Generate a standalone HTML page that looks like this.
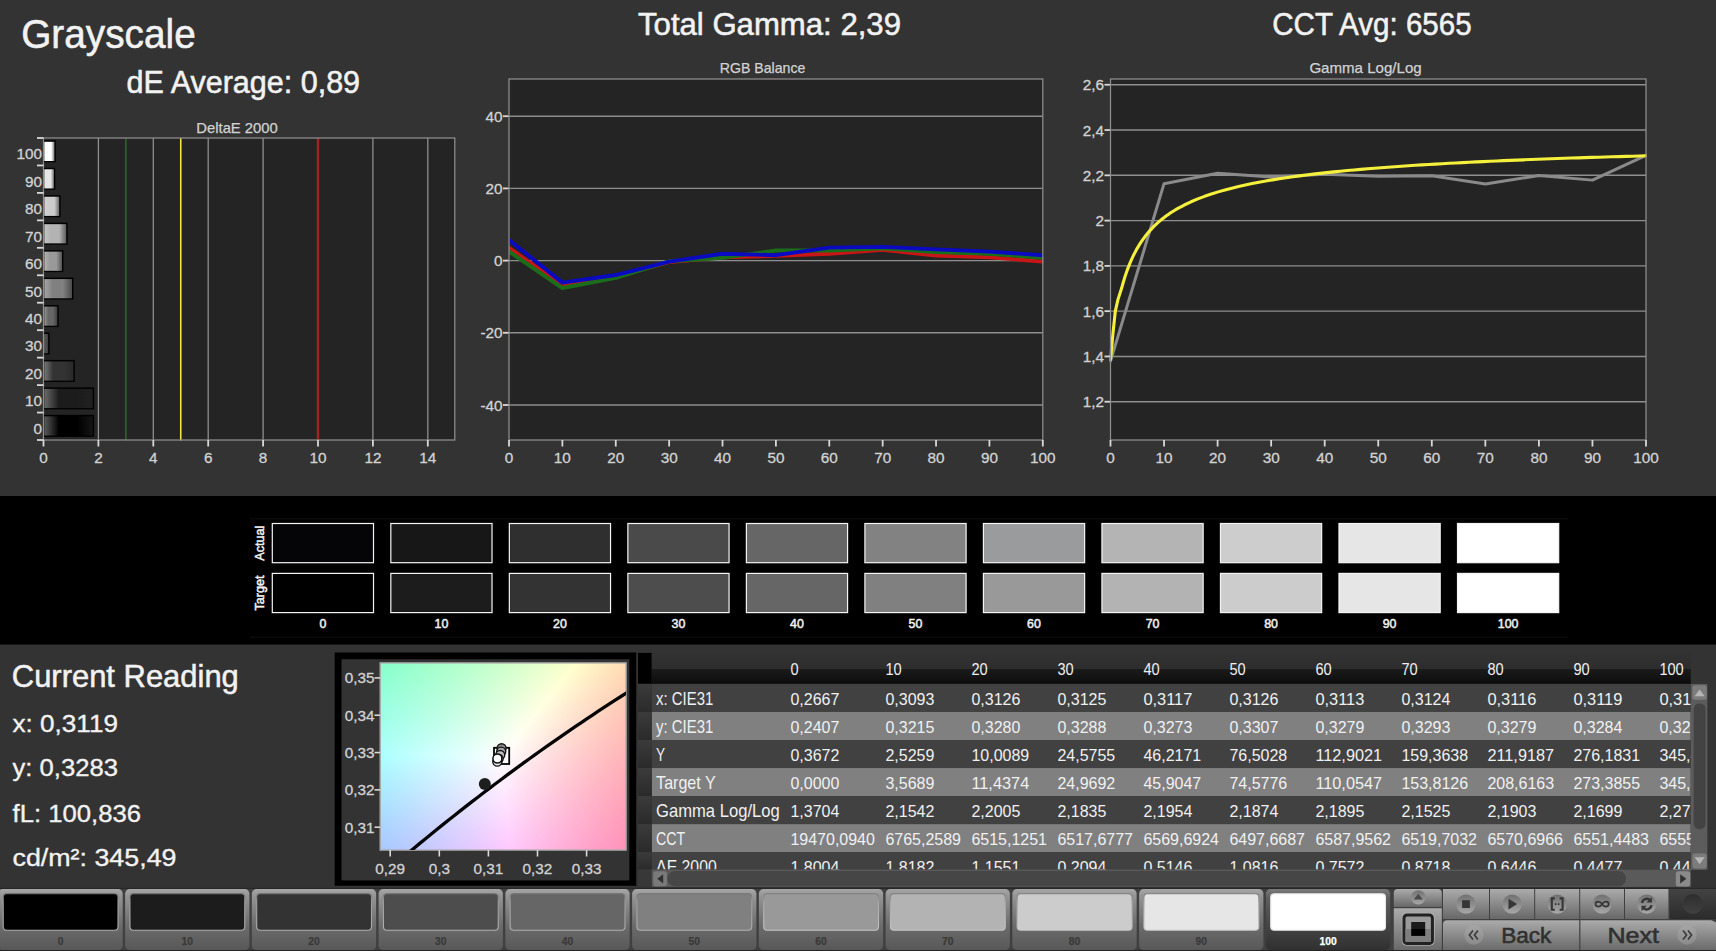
<!DOCTYPE html>
<html lang="en">
<head>
<meta charset="utf-8">
<title>Grayscale</title>
<style>
html,body{margin:0;padding:0;background:#333;}
body{width:1716px;height:951px;overflow:hidden;position:relative;font-family:"Liberation Sans",sans-serif;}
#cie{position:absolute;left:380px;top:663px;width:246px;height:187px;background-color:#fff;
 background-image:linear-gradient(128.55deg,#86ffff 0.0%,#9bffff 9.9%,#b1ffff 19.9%,#c9ffff 29.8%,#e3ffff 39.7%,#ffffff 49.6%,#ffffff 100.0%),
  linear-gradient(86.40deg,#a7ffff 0.0%,#b8ffff 9.9%,#c9ffff 19.8%,#daffff 29.7%,#ecffff 39.6%,#ffffff 49.5%,#ffffff 100.0%),
  linear-gradient(308.55deg,#ff92ff 0.0%,#ffa3ff 10.1%,#ffb6ff 20.1%,#ffcbff 30.2%,#ffe3ff 40.3%,#ffffff 50.4%,#ffffff 100.0%),
  linear-gradient(359.86deg,#ffc8ff 0.0%,#ffd2ff 10.0%,#ffddff 20.0%,#ffe8ff 30.1%,#fff3ff 40.1%,#ffffff 50.1%,#ffffff 100.0%),
  linear-gradient(266.40deg,#ffffb4 0.0%,#ffffc0 10.1%,#ffffcd 20.2%,#ffffdc 30.3%,#ffffed 40.4%,#ffffff 50.5%,#ffffff 100.0%),
  linear-gradient(179.86deg,#ffffca 0.0%,#ffffd4 10.0%,#ffffde 20.0%,#ffffe8 29.9%,#fffff3 39.9%,#ffffff 49.9%,#ffffff 100.0%);background-blend-mode:darken;}
svg{position:absolute;left:0;top:0;}
svg text{font-family:"Liberation Sans",sans-serif;white-space:pre;}
</style>
</head>
<body>
<div id="cie"></div>
<svg width="1716" height="951" viewBox="0 0 1716 951">
<defs>
<linearGradient id="bg100" x1="0" x2="1" y1="0" y2="0"><stop offset="0" stop-color="#ffffff"/><stop offset="0.3" stop-color="#ffffff"/><stop offset="0.68" stop-color="#ffffff"/><stop offset="1" stop-color="#7f7f7f"/></linearGradient>
<linearGradient id="bg90" x1="0" x2="1" y1="0" y2="0"><stop offset="0" stop-color="#e6e6e6"/><stop offset="0.3" stop-color="#e6e6e6"/><stop offset="0.68" stop-color="#e6e6e6"/><stop offset="1" stop-color="#757575"/></linearGradient>
<linearGradient id="bg80" x1="0" x2="1" y1="0" y2="0"><stop offset="0" stop-color="#d1d1d1"/><stop offset="0.3" stop-color="#cccccc"/><stop offset="0.68" stop-color="#cccccc"/><stop offset="1" stop-color="#6a6a6a"/></linearGradient>
<linearGradient id="bg70" x1="0" x2="1" y1="0" y2="0"><stop offset="0" stop-color="#c3c3c3"/><stop offset="0.3" stop-color="#b3b3b3"/><stop offset="0.68" stop-color="#b3b3b3"/><stop offset="1" stop-color="#5f5f5f"/></linearGradient>
<linearGradient id="bg60" x1="0" x2="1" y1="0" y2="0"><stop offset="0" stop-color="#b3b3b3"/><stop offset="0.3" stop-color="#999999"/><stop offset="0.68" stop-color="#999999"/><stop offset="1" stop-color="#545454"/></linearGradient>
<linearGradient id="bg50" x1="0" x2="1" y1="0" y2="0"><stop offset="0" stop-color="#a5a5a5"/><stop offset="0.3" stop-color="#808080"/><stop offset="0.68" stop-color="#808080"/><stop offset="1" stop-color="#4a4a4a"/></linearGradient>
<linearGradient id="bg40" x1="0" x2="1" y1="0" y2="0"><stop offset="0" stop-color="#969696"/><stop offset="0.3" stop-color="#666666"/><stop offset="0.68" stop-color="#666666"/><stop offset="1" stop-color="#3f3f3f"/></linearGradient>
<linearGradient id="bg30" x1="0" x2="1" y1="0" y2="0"><stop offset="0" stop-color="#878787"/><stop offset="0.3" stop-color="#4d4d4d"/><stop offset="0.68" stop-color="#4d4d4d"/><stop offset="1" stop-color="#343434"/></linearGradient>
<linearGradient id="bg20" x1="0" x2="1" y1="0" y2="0"><stop offset="0" stop-color="#787878"/><stop offset="0.3" stop-color="#333333"/><stop offset="0.68" stop-color="#333333"/><stop offset="1" stop-color="#292929"/></linearGradient>
<linearGradient id="bg10" x1="0" x2="1" y1="0" y2="0"><stop offset="0" stop-color="#6b6b6b"/><stop offset="0.3" stop-color="#1c1c1c"/><stop offset="0.68" stop-color="#1c1c1c"/><stop offset="1" stop-color="#202020"/></linearGradient>
<linearGradient id="bg0" x1="0" x2="1" y1="0" y2="0"><stop offset="0" stop-color="#5b5b5b"/><stop offset="0.3" stop-color="#000000"/><stop offset="0.68" stop-color="#000000"/><stop offset="1" stop-color="#141414"/></linearGradient>
<clipPath id="cpRGB"><rect x="509" y="79" width="534.8" height="361"/></clipPath>
<clipPath id="cpG"><rect x="1109.5" y="79" width="537.1" height="361"/></clipPath>
<linearGradient id="thd" x1="0" x2="0" y1="0" y2="1"><stop offset="0" stop-color="#323232"/><stop offset="0.52" stop-color="#2d2d2d"/><stop offset="0.52" stop-color="#1b1b1b"/><stop offset="1" stop-color="#0c0c0c"/></linearGradient>
<linearGradient id="gut" x1="0" x2="0" y1="0" y2="1"><stop offset="0" stop-color="#3b3b3b"/><stop offset="1" stop-color="#2a2a2a"/></linearGradient>
<clipPath id="cpT"><rect x="651.8" y="652.9" width="1039" height="216.6"/></clipPath>
<linearGradient id="btn" x1="0" x2="0" y1="0" y2="1"><stop offset="0" stop-color="#a6a6a6"/><stop offset="0.12" stop-color="#949494"/><stop offset="0.6" stop-color="#6c6c6c"/><stop offset="1" stop-color="#585858"/></linearGradient>
<linearGradient id="btnSel" x1="0" x2="0" y1="0" y2="1"><stop offset="0" stop-color="#7a7a7a"/><stop offset="0.15" stop-color="#5e5e5e"/><stop offset="0.7" stop-color="#404040"/><stop offset="1" stop-color="#303030"/></linearGradient>
<linearGradient id="sb" x1="0" x2="0" y1="0" y2="1"><stop offset="0" stop-color="#ababab"/><stop offset="1" stop-color="#686868"/></linearGradient>
<linearGradient id="ic" x1="0" x2="0" y1="0" y2="1"><stop offset="0" stop-color="#707070"/><stop offset="1" stop-color="#a8a8a8"/></linearGradient>
<linearGradient id="ic2" x1="0" x2="0" y1="0" y2="1"><stop offset="0" stop-color="#a6a6a6"/><stop offset="1" stop-color="#8a8a8a"/></linearGradient>
<linearGradient id="swb" x1="0" x2="0" y1="0" y2="1"><stop offset="0" stop-color="#707070"/><stop offset="0.2" stop-color="#9a9a9a"/><stop offset="1" stop-color="#b0b0b0"/></linearGradient>
<linearGradient id="swb2" x1="0" x2="0" y1="0" y2="1"><stop offset="0" stop-color="#7c7c7c"/><stop offset="0.25" stop-color="#a8a8a8"/><stop offset="1" stop-color="#c4c4c4"/></linearGradient>
<linearGradient id="dk" x1="0" x2="0" y1="0" y2="1"><stop offset="0" stop-color="#434343"/><stop offset="1" stop-color="#2b2b2b"/></linearGradient>
<linearGradient id="dk2" x1="0" x2="0" y1="0" y2="1"><stop offset="0" stop-color="#2d2d2d"/><stop offset="1" stop-color="#414141"/></linearGradient>
</defs>
<text x="21.2" y="47.8" font-size="41" fill="#f2f2f2" textLength="174.5" lengthAdjust="spacingAndGlyphs" stroke="#f2f2f2" stroke-width="0.55">Grayscale</text>
<text x="126.6" y="93.3" font-size="31" fill="#f2f2f2" textLength="233.5" lengthAdjust="spacingAndGlyphs" stroke="#f2f2f2" stroke-width="0.55">dE Average: 0,89</text>
<text x="638" y="34.6" font-size="31.6" fill="#f2f2f2" textLength="263" lengthAdjust="spacingAndGlyphs" stroke="#f2f2f2" stroke-width="0.55">Total Gamma: 2,39</text>
<text x="1272.2" y="34.6" font-size="31.6" fill="#f2f2f2" textLength="199.5" lengthAdjust="spacingAndGlyphs" stroke="#f2f2f2" stroke-width="0.55">CCT Avg: 6565</text>
<text x="196.3" y="132.9" font-size="14.8" fill="#d2d2d2" textLength="81.5" lengthAdjust="spacingAndGlyphs" stroke="#d2d2d2" stroke-width="0.25">DeltaE 2000</text>
<text x="719.8" y="72.7" font-size="14.8" fill="#d2d2d2" textLength="85.5" lengthAdjust="spacingAndGlyphs" stroke="#d2d2d2" stroke-width="0.25">RGB Balance</text>
<text x="1309.4" y="72.7" font-size="14.8" fill="#d2d2d2" textLength="112.3" lengthAdjust="spacingAndGlyphs" stroke="#d2d2d2" stroke-width="0.25">Gamma Log/Log</text>
<rect x="43.5" y="138" width="411.3" height="302" fill="#242424"/>
<line x1="98.4" y1="138" x2="98.4" y2="440" stroke="#8e8e8e" stroke-width="1.3"/>
<line x1="153.3" y1="138" x2="153.3" y2="440" stroke="#8e8e8e" stroke-width="1.3"/>
<line x1="208.2" y1="138" x2="208.2" y2="440" stroke="#8e8e8e" stroke-width="1.3"/>
<line x1="263.1" y1="138" x2="263.1" y2="440" stroke="#8e8e8e" stroke-width="1.3"/>
<line x1="318" y1="138" x2="318" y2="440" stroke="#8e8e8e" stroke-width="1.3"/>
<line x1="372.9" y1="138" x2="372.9" y2="440" stroke="#8e8e8e" stroke-width="1.3"/>
<line x1="427.8" y1="138" x2="427.8" y2="440" stroke="#8e8e8e" stroke-width="1.3"/>
<line x1="125.85" y1="138" x2="125.85" y2="440.5" stroke="#2b6c28" stroke-width="1.5"/>
<line x1="180.75" y1="138" x2="180.75" y2="440.5" stroke="#f2ea3a" stroke-width="1.6"/>
<line x1="318" y1="138" x2="318" y2="440.5" stroke="#a32222" stroke-width="2.4"/>
<rect x="43.5" y="138" width="411.3" height="302" fill="none" stroke="#8e8e8e" stroke-width="1.25"/>
<rect x="44.1" y="140.3" width="11.7" height="22" fill="#000"/>
<rect x="44.3" y="141.8" width="10.1" height="19.2" fill="url(#bg100)"/>
<line x1="37" y1="138" x2="43.5" y2="138" stroke="#d8d8d8" stroke-width="1.8"/>
<text x="42" y="159.23" font-size="15.3" fill="#d2d2d2" text-anchor="end" stroke="#d2d2d2" stroke-width="0.3">100</text>
<rect x="44.1" y="167.75" width="11.2" height="22" fill="#000"/>
<rect x="44.3" y="169.25" width="9.6" height="19.2" fill="url(#bg90)"/>
<line x1="37" y1="165.45" x2="43.5" y2="165.45" stroke="#d8d8d8" stroke-width="1.8"/>
<text x="42" y="186.68" font-size="15.3" fill="#d2d2d2" text-anchor="end" stroke="#d2d2d2" stroke-width="0.3">90</text>
<rect x="44.1" y="195.21" width="16.5" height="22" fill="#000"/>
<rect x="44.3" y="196.71" width="14.9" height="19.2" fill="url(#bg80)"/>
<line x1="37" y1="192.91" x2="43.5" y2="192.91" stroke="#d8d8d8" stroke-width="1.8"/>
<text x="42" y="214.14" font-size="15.3" fill="#d2d2d2" text-anchor="end" stroke="#d2d2d2" stroke-width="0.3">80</text>
<rect x="44.1" y="222.66" width="23.5" height="22" fill="#000"/>
<rect x="44.3" y="224.16" width="21.9" height="19.2" fill="url(#bg70)"/>
<line x1="37" y1="220.36" x2="43.5" y2="220.36" stroke="#d8d8d8" stroke-width="1.8"/>
<text x="42" y="241.59" font-size="15.3" fill="#d2d2d2" text-anchor="end" stroke="#d2d2d2" stroke-width="0.3">70</text>
<rect x="44.1" y="250.12" width="19.3" height="22" fill="#000"/>
<rect x="44.3" y="251.62" width="17.7" height="19.2" fill="url(#bg60)"/>
<line x1="37" y1="247.82" x2="43.5" y2="247.82" stroke="#d8d8d8" stroke-width="1.8"/>
<text x="42" y="269.05" font-size="15.3" fill="#d2d2d2" text-anchor="end" stroke="#d2d2d2" stroke-width="0.3">60</text>
<rect x="44.1" y="277.57" width="29.3" height="22" fill="#000"/>
<rect x="44.3" y="279.07" width="27.7" height="19.2" fill="url(#bg50)"/>
<line x1="37" y1="275.27" x2="43.5" y2="275.27" stroke="#d8d8d8" stroke-width="1.8"/>
<text x="42" y="296.5" font-size="15.3" fill="#d2d2d2" text-anchor="end" stroke="#d2d2d2" stroke-width="0.3">50</text>
<rect x="44.1" y="305.03" width="14.6" height="22" fill="#000"/>
<rect x="44.3" y="306.53" width="13" height="19.2" fill="url(#bg40)"/>
<line x1="37" y1="302.73" x2="43.5" y2="302.73" stroke="#d8d8d8" stroke-width="1.8"/>
<text x="42" y="323.95" font-size="15.3" fill="#d2d2d2" text-anchor="end" stroke="#d2d2d2" stroke-width="0.3">40</text>
<rect x="44.1" y="332.48" width="5.5" height="22" fill="#000"/>
<rect x="44.3" y="333.98" width="3.9" height="19.2" fill="url(#bg30)"/>
<line x1="37" y1="330.18" x2="43.5" y2="330.18" stroke="#d8d8d8" stroke-width="1.8"/>
<text x="42" y="351.41" font-size="15.3" fill="#d2d2d2" text-anchor="end" stroke="#d2d2d2" stroke-width="0.3">30</text>
<rect x="44.1" y="359.94" width="30.7" height="22" fill="#000"/>
<rect x="44.3" y="361.44" width="29.1" height="19.2" fill="url(#bg20)"/>
<line x1="37" y1="357.64" x2="43.5" y2="357.64" stroke="#d8d8d8" stroke-width="1.8"/>
<text x="42" y="378.86" font-size="15.3" fill="#d2d2d2" text-anchor="end" stroke="#d2d2d2" stroke-width="0.3">20</text>
<rect x="44.1" y="387.39" width="50" height="22" fill="#000"/>
<rect x="44.3" y="388.89" width="48.4" height="19.2" fill="url(#bg10)"/>
<line x1="37" y1="385.09" x2="43.5" y2="385.09" stroke="#d8d8d8" stroke-width="1.8"/>
<text x="42" y="406.32" font-size="15.3" fill="#d2d2d2" text-anchor="end" stroke="#d2d2d2" stroke-width="0.3">10</text>
<rect x="44.1" y="414.85" width="50" height="22" fill="#000"/>
<rect x="44.3" y="416.35" width="48.4" height="19.2" fill="url(#bg0)"/>
<line x1="37" y1="412.55" x2="43.5" y2="412.55" stroke="#d8d8d8" stroke-width="1.8"/>
<text x="42" y="433.77" font-size="15.3" fill="#d2d2d2" text-anchor="end" stroke="#d2d2d2" stroke-width="0.3">0</text>
<line x1="37" y1="440" x2="43.5" y2="440" stroke="#d8d8d8" stroke-width="1.8"/>
<line x1="43.5" y1="440" x2="43.5" y2="446.5" stroke="#d8d8d8" stroke-width="1.8"/>
<text x="43.5" y="463.3" font-size="15.3" fill="#d2d2d2" text-anchor="middle" stroke="#d2d2d2" stroke-width="0.3">0</text>
<line x1="98.4" y1="440" x2="98.4" y2="446.5" stroke="#d8d8d8" stroke-width="1.8"/>
<text x="98.4" y="463.3" font-size="15.3" fill="#d2d2d2" text-anchor="middle" stroke="#d2d2d2" stroke-width="0.3">2</text>
<line x1="153.3" y1="440" x2="153.3" y2="446.5" stroke="#d8d8d8" stroke-width="1.8"/>
<text x="153.3" y="463.3" font-size="15.3" fill="#d2d2d2" text-anchor="middle" stroke="#d2d2d2" stroke-width="0.3">4</text>
<line x1="208.2" y1="440" x2="208.2" y2="446.5" stroke="#d8d8d8" stroke-width="1.8"/>
<text x="208.2" y="463.3" font-size="15.3" fill="#d2d2d2" text-anchor="middle" stroke="#d2d2d2" stroke-width="0.3">6</text>
<line x1="263.1" y1="440" x2="263.1" y2="446.5" stroke="#d8d8d8" stroke-width="1.8"/>
<text x="263.1" y="463.3" font-size="15.3" fill="#d2d2d2" text-anchor="middle" stroke="#d2d2d2" stroke-width="0.3">8</text>
<line x1="318" y1="440" x2="318" y2="446.5" stroke="#d8d8d8" stroke-width="1.8"/>
<text x="318" y="463.3" font-size="15.3" fill="#d2d2d2" text-anchor="middle" stroke="#d2d2d2" stroke-width="0.3">10</text>
<line x1="372.9" y1="440" x2="372.9" y2="446.5" stroke="#d8d8d8" stroke-width="1.8"/>
<text x="372.9" y="463.3" font-size="15.3" fill="#d2d2d2" text-anchor="middle" stroke="#d2d2d2" stroke-width="0.3">12</text>
<line x1="427.8" y1="440" x2="427.8" y2="446.5" stroke="#d8d8d8" stroke-width="1.8"/>
<text x="427.8" y="463.3" font-size="15.3" fill="#d2d2d2" text-anchor="middle" stroke="#d2d2d2" stroke-width="0.3">14</text>
<rect x="509" y="79" width="533.8" height="361" fill="#242424"/>
<line x1="509" y1="116.2" x2="1042.8" y2="116.2" stroke="#8e8e8e" stroke-width="1.4"/>
<line x1="503" y1="116.2" x2="509" y2="116.2" stroke="#d8d8d8" stroke-width="1.8"/>
<text x="502.5" y="121.8" font-size="15.3" fill="#d2d2d2" text-anchor="end" stroke="#d2d2d2" stroke-width="0.3">40</text>
<line x1="509" y1="188.4" x2="1042.8" y2="188.4" stroke="#8e8e8e" stroke-width="1.4"/>
<line x1="503" y1="188.4" x2="509" y2="188.4" stroke="#d8d8d8" stroke-width="1.8"/>
<text x="502.5" y="194" font-size="15.3" fill="#d2d2d2" text-anchor="end" stroke="#d2d2d2" stroke-width="0.3">20</text>
<line x1="509" y1="260.6" x2="1042.8" y2="260.6" stroke="#8e8e8e" stroke-width="1.4"/>
<line x1="503" y1="260.6" x2="509" y2="260.6" stroke="#d8d8d8" stroke-width="1.8"/>
<text x="502.5" y="266.2" font-size="15.3" fill="#d2d2d2" text-anchor="end" stroke="#d2d2d2" stroke-width="0.3">0</text>
<line x1="509" y1="332.8" x2="1042.8" y2="332.8" stroke="#8e8e8e" stroke-width="1.4"/>
<line x1="503" y1="332.8" x2="509" y2="332.8" stroke="#d8d8d8" stroke-width="1.8"/>
<text x="502.5" y="338.4" font-size="15.3" fill="#d2d2d2" text-anchor="end" stroke="#d2d2d2" stroke-width="0.3">-20</text>
<line x1="509" y1="405" x2="1042.8" y2="405" stroke="#8e8e8e" stroke-width="1.4"/>
<line x1="503" y1="405" x2="509" y2="405" stroke="#d8d8d8" stroke-width="1.8"/>
<text x="502.5" y="410.6" font-size="15.3" fill="#d2d2d2" text-anchor="end" stroke="#d2d2d2" stroke-width="0.3">-40</text>
<polyline points="509,247.97 562.38,285.15 615.76,276.48 669.14,262.04 722.52,257.35 775.9,255.91 829.28,253.74 882.66,249.77 936.04,255.55 989.42,257.35 1042.8,261.68" fill="none" stroke="#c81616" stroke-width="3.9" stroke-linejoin="round" stroke-linecap="round" clip-path="url(#cpRGB)"/>
<polyline points="509,251.58 562.38,288.04 615.76,277.93 669.14,261.32 722.52,257.71 775.9,250.49 829.28,250.49 882.66,248.33 936.04,251.94 989.42,253.74 1042.8,257.71" fill="none" stroke="#1a6e1a" stroke-width="3.9" stroke-linejoin="round" stroke-linecap="round" clip-path="url(#cpRGB)"/>
<polyline points="509,240.02 562.38,282.62 615.76,275.04 669.14,261.68 722.52,253.74 775.9,255.19 829.28,247.6 882.66,246.88 936.04,249.41 989.42,251.58 1042.8,255.19" fill="none" stroke="#0a0ac0" stroke-width="3.9" stroke-linejoin="round" stroke-linecap="round" clip-path="url(#cpRGB)"/>
<rect x="509" y="79" width="533.8" height="361" fill="none" stroke="#8e8e8e" stroke-width="1.25"/>
<line x1="509" y1="440" x2="509" y2="446.5" stroke="#d8d8d8" stroke-width="1.8"/>
<text x="509" y="463.3" font-size="15.3" fill="#d2d2d2" text-anchor="middle" stroke="#d2d2d2" stroke-width="0.3">0</text>
<line x1="562.38" y1="440" x2="562.38" y2="446.5" stroke="#d8d8d8" stroke-width="1.8"/>
<text x="562.38" y="463.3" font-size="15.3" fill="#d2d2d2" text-anchor="middle" stroke="#d2d2d2" stroke-width="0.3">10</text>
<line x1="615.76" y1="440" x2="615.76" y2="446.5" stroke="#d8d8d8" stroke-width="1.8"/>
<text x="615.76" y="463.3" font-size="15.3" fill="#d2d2d2" text-anchor="middle" stroke="#d2d2d2" stroke-width="0.3">20</text>
<line x1="669.14" y1="440" x2="669.14" y2="446.5" stroke="#d8d8d8" stroke-width="1.8"/>
<text x="669.14" y="463.3" font-size="15.3" fill="#d2d2d2" text-anchor="middle" stroke="#d2d2d2" stroke-width="0.3">30</text>
<line x1="722.52" y1="440" x2="722.52" y2="446.5" stroke="#d8d8d8" stroke-width="1.8"/>
<text x="722.52" y="463.3" font-size="15.3" fill="#d2d2d2" text-anchor="middle" stroke="#d2d2d2" stroke-width="0.3">40</text>
<line x1="775.9" y1="440" x2="775.9" y2="446.5" stroke="#d8d8d8" stroke-width="1.8"/>
<text x="775.9" y="463.3" font-size="15.3" fill="#d2d2d2" text-anchor="middle" stroke="#d2d2d2" stroke-width="0.3">50</text>
<line x1="829.28" y1="440" x2="829.28" y2="446.5" stroke="#d8d8d8" stroke-width="1.8"/>
<text x="829.28" y="463.3" font-size="15.3" fill="#d2d2d2" text-anchor="middle" stroke="#d2d2d2" stroke-width="0.3">60</text>
<line x1="882.66" y1="440" x2="882.66" y2="446.5" stroke="#d8d8d8" stroke-width="1.8"/>
<text x="882.66" y="463.3" font-size="15.3" fill="#d2d2d2" text-anchor="middle" stroke="#d2d2d2" stroke-width="0.3">70</text>
<line x1="936.04" y1="440" x2="936.04" y2="446.5" stroke="#d8d8d8" stroke-width="1.8"/>
<text x="936.04" y="463.3" font-size="15.3" fill="#d2d2d2" text-anchor="middle" stroke="#d2d2d2" stroke-width="0.3">80</text>
<line x1="989.42" y1="440" x2="989.42" y2="446.5" stroke="#d8d8d8" stroke-width="1.8"/>
<text x="989.42" y="463.3" font-size="15.3" fill="#d2d2d2" text-anchor="middle" stroke="#d2d2d2" stroke-width="0.3">90</text>
<line x1="1042.8" y1="440" x2="1042.8" y2="446.5" stroke="#d8d8d8" stroke-width="1.8"/>
<text x="1042.8" y="463.3" font-size="15.3" fill="#d2d2d2" text-anchor="middle" stroke="#d2d2d2" stroke-width="0.3">100</text>
<rect x="1110.5" y="79" width="535.5" height="361" fill="#242424"/>
<line x1="1110.5" y1="84.76" x2="1646" y2="84.76" stroke="#8e8e8e" stroke-width="1.4"/>
<line x1="1104.5" y1="84.76" x2="1110.5" y2="84.76" stroke="#d8d8d8" stroke-width="1.8"/>
<text x="1104" y="90.36" font-size="15.3" fill="#d2d2d2" text-anchor="end" stroke="#d2d2d2" stroke-width="0.3">2,6</text>
<line x1="1110.5" y1="130.04" x2="1646" y2="130.04" stroke="#8e8e8e" stroke-width="1.4"/>
<line x1="1104.5" y1="130.04" x2="1110.5" y2="130.04" stroke="#d8d8d8" stroke-width="1.8"/>
<text x="1104" y="135.64" font-size="15.3" fill="#d2d2d2" text-anchor="end" stroke="#d2d2d2" stroke-width="0.3">2,4</text>
<line x1="1110.5" y1="175.32" x2="1646" y2="175.32" stroke="#8e8e8e" stroke-width="1.4"/>
<line x1="1104.5" y1="175.32" x2="1110.5" y2="175.32" stroke="#d8d8d8" stroke-width="1.8"/>
<text x="1104" y="180.92" font-size="15.3" fill="#d2d2d2" text-anchor="end" stroke="#d2d2d2" stroke-width="0.3">2,2</text>
<line x1="1110.5" y1="220.6" x2="1646" y2="220.6" stroke="#8e8e8e" stroke-width="1.4"/>
<line x1="1104.5" y1="220.6" x2="1110.5" y2="220.6" stroke="#d8d8d8" stroke-width="1.8"/>
<text x="1104" y="226.2" font-size="15.3" fill="#d2d2d2" text-anchor="end" stroke="#d2d2d2" stroke-width="0.3">2</text>
<line x1="1110.5" y1="265.88" x2="1646" y2="265.88" stroke="#8e8e8e" stroke-width="1.4"/>
<line x1="1104.5" y1="265.88" x2="1110.5" y2="265.88" stroke="#d8d8d8" stroke-width="1.8"/>
<text x="1104" y="271.48" font-size="15.3" fill="#d2d2d2" text-anchor="end" stroke="#d2d2d2" stroke-width="0.3">1,8</text>
<line x1="1110.5" y1="311.16" x2="1646" y2="311.16" stroke="#8e8e8e" stroke-width="1.4"/>
<line x1="1104.5" y1="311.16" x2="1110.5" y2="311.16" stroke="#d8d8d8" stroke-width="1.8"/>
<text x="1104" y="316.76" font-size="15.3" fill="#d2d2d2" text-anchor="end" stroke="#d2d2d2" stroke-width="0.3">1,6</text>
<line x1="1110.5" y1="356.44" x2="1646" y2="356.44" stroke="#8e8e8e" stroke-width="1.4"/>
<line x1="1104.5" y1="356.44" x2="1110.5" y2="356.44" stroke="#d8d8d8" stroke-width="1.8"/>
<text x="1104" y="362.04" font-size="15.3" fill="#d2d2d2" text-anchor="end" stroke="#d2d2d2" stroke-width="0.3">1,4</text>
<line x1="1110.5" y1="401.72" x2="1646" y2="401.72" stroke="#8e8e8e" stroke-width="1.4"/>
<line x1="1104.5" y1="401.72" x2="1110.5" y2="401.72" stroke="#d8d8d8" stroke-width="1.8"/>
<text x="1104" y="407.32" font-size="15.3" fill="#d2d2d2" text-anchor="end" stroke="#d2d2d2" stroke-width="0.3">1,2</text>
<polyline points="1110.5,361.14 1164.05,183.69 1217.6,173.21 1271.15,177.06 1324.7,174.36 1378.25,176.17 1431.8,175.7 1485.35,184.07 1538.9,175.52 1592.45,180.13 1646,155.43" fill="none" stroke="#8a8a8a" stroke-width="3" stroke-linejoin="round" stroke-linecap="round" clip-path="url(#cpG)"/>
<polyline points="1110.5,359.61 1112.91,333.8 1115.32,311.16 1118,299.39 1121.75,287.81 1123.35,282.02 1124.96,276.78 1126.57,271.99 1128.17,267.61 1129.78,263.57 1131.38,259.84 1132.99,256.37 1134.6,253.15 1136.2,250.14 1137.81,247.32 1139.42,244.68 1141.02,242.19 1142.63,239.84 1144.24,237.62 1145.84,235.51 1147.45,233.52 1149.06,231.62 1150.66,229.82 1152.27,228.1 1153.88,226.46 1155.48,224.89 1157.09,223.38 1158.69,221.95 1160.3,220.57 1161.91,219.24 1163.51,217.97 1165.12,216.74 1166.73,215.56 1168.33,214.42 1169.94,213.32 1171.55,212.26 1173.15,211.24 1174.76,210.25 1177.44,208.67 1184.23,205.02 1191.02,201.79 1197.81,198.92 1204.6,196.33 1211.39,194 1218.18,191.88 1224.97,189.94 1231.76,188.16 1238.55,186.51 1245.35,184.99 1252.14,183.57 1258.93,182.25 1265.72,181.01 1272.51,179.86 1279.3,178.77 1286.09,177.74 1292.88,176.77 1299.67,175.85 1306.46,174.98 1313.25,174.16 1320.04,173.37 1326.83,172.63 1333.62,171.91 1340.42,171.23 1347.21,170.58 1354,169.95 1360.79,169.36 1367.58,168.78 1374.37,168.23 1381.16,167.7 1387.95,167.19 1394.74,166.7 1401.53,166.22 1408.32,165.76 1415.11,165.32 1421.9,164.89 1428.7,164.48 1435.49,164.08 1442.28,163.69 1449.07,163.31 1455.86,162.95 1462.65,162.6 1469.44,162.25 1476.23,161.92 1483.02,161.59 1489.81,161.28 1496.6,160.97 1503.39,160.67 1510.18,160.38 1516.98,160.1 1523.77,159.83 1530.56,159.56 1537.35,159.29 1544.14,159.04 1550.93,158.79 1557.72,158.54 1564.51,158.31 1571.3,158.07 1578.09,157.85 1584.88,157.62 1591.67,157.41 1598.46,157.19 1605.26,156.98 1612.05,156.78 1618.84,156.58 1625.63,156.38 1632.42,156.19 1639.21,156.01 1646,155.82" fill="none" stroke="#f4f03c" stroke-width="3.1" stroke-linejoin="round" stroke-linecap="round" clip-path="url(#cpG)"/>
<rect x="1110.5" y="79" width="535.5" height="361" fill="none" stroke="#8e8e8e" stroke-width="1.25"/>
<line x1="1110.5" y1="440" x2="1110.5" y2="446.5" stroke="#d8d8d8" stroke-width="1.8"/>
<text x="1110.5" y="463.3" font-size="15.3" fill="#d2d2d2" text-anchor="middle" stroke="#d2d2d2" stroke-width="0.3">0</text>
<line x1="1164.05" y1="440" x2="1164.05" y2="446.5" stroke="#d8d8d8" stroke-width="1.8"/>
<text x="1164.05" y="463.3" font-size="15.3" fill="#d2d2d2" text-anchor="middle" stroke="#d2d2d2" stroke-width="0.3">10</text>
<line x1="1217.6" y1="440" x2="1217.6" y2="446.5" stroke="#d8d8d8" stroke-width="1.8"/>
<text x="1217.6" y="463.3" font-size="15.3" fill="#d2d2d2" text-anchor="middle" stroke="#d2d2d2" stroke-width="0.3">20</text>
<line x1="1271.15" y1="440" x2="1271.15" y2="446.5" stroke="#d8d8d8" stroke-width="1.8"/>
<text x="1271.15" y="463.3" font-size="15.3" fill="#d2d2d2" text-anchor="middle" stroke="#d2d2d2" stroke-width="0.3">30</text>
<line x1="1324.7" y1="440" x2="1324.7" y2="446.5" stroke="#d8d8d8" stroke-width="1.8"/>
<text x="1324.7" y="463.3" font-size="15.3" fill="#d2d2d2" text-anchor="middle" stroke="#d2d2d2" stroke-width="0.3">40</text>
<line x1="1378.25" y1="440" x2="1378.25" y2="446.5" stroke="#d8d8d8" stroke-width="1.8"/>
<text x="1378.25" y="463.3" font-size="15.3" fill="#d2d2d2" text-anchor="middle" stroke="#d2d2d2" stroke-width="0.3">50</text>
<line x1="1431.8" y1="440" x2="1431.8" y2="446.5" stroke="#d8d8d8" stroke-width="1.8"/>
<text x="1431.8" y="463.3" font-size="15.3" fill="#d2d2d2" text-anchor="middle" stroke="#d2d2d2" stroke-width="0.3">60</text>
<line x1="1485.35" y1="440" x2="1485.35" y2="446.5" stroke="#d8d8d8" stroke-width="1.8"/>
<text x="1485.35" y="463.3" font-size="15.3" fill="#d2d2d2" text-anchor="middle" stroke="#d2d2d2" stroke-width="0.3">70</text>
<line x1="1538.9" y1="440" x2="1538.9" y2="446.5" stroke="#d8d8d8" stroke-width="1.8"/>
<text x="1538.9" y="463.3" font-size="15.3" fill="#d2d2d2" text-anchor="middle" stroke="#d2d2d2" stroke-width="0.3">80</text>
<line x1="1592.45" y1="440" x2="1592.45" y2="446.5" stroke="#d8d8d8" stroke-width="1.8"/>
<text x="1592.45" y="463.3" font-size="15.3" fill="#d2d2d2" text-anchor="middle" stroke="#d2d2d2" stroke-width="0.3">90</text>
<line x1="1646" y1="440" x2="1646" y2="446.5" stroke="#d8d8d8" stroke-width="1.8"/>
<text x="1646" y="463.3" font-size="15.3" fill="#d2d2d2" text-anchor="middle" stroke="#d2d2d2" stroke-width="0.3">100</text>
<rect x="0" y="496" width="1716" height="148.5" fill="#000"/>
<line x1="250" y1="518.8" x2="1568" y2="518.8" stroke="#101010" stroke-width="1"/>
<line x1="250" y1="637.2" x2="1568" y2="637.2" stroke="#101010" stroke-width="1"/>
<rect x="272.3" y="523.5" width="101.2" height="39.2" fill="#050508" stroke="#f4f4f4" stroke-width="1.2"/>
<rect x="272.3" y="573.4" width="101.2" height="39.2" fill="#000000" stroke="#f4f4f4" stroke-width="1.2"/>
<text x="322.9" y="628.2" font-size="12.4" fill="#f0f0f0" text-anchor="middle" stroke="#f0f0f0" stroke-width="0.5">0</text>
<rect x="390.82" y="523.5" width="101.2" height="39.2" fill="#171718" stroke="#f4f4f4" stroke-width="1.2"/>
<rect x="390.82" y="573.4" width="101.2" height="39.2" fill="#1c1c1c" stroke="#f4f4f4" stroke-width="1.2"/>
<text x="441.42" y="628.2" font-size="12.4" fill="#f0f0f0" text-anchor="middle" stroke="#f0f0f0" stroke-width="0.5">10</text>
<rect x="509.34" y="523.5" width="101.2" height="39.2" fill="#2f2f2f" stroke="#f4f4f4" stroke-width="1.2"/>
<rect x="509.34" y="573.4" width="101.2" height="39.2" fill="#333333" stroke="#f4f4f4" stroke-width="1.2"/>
<text x="559.94" y="628.2" font-size="12.4" fill="#f0f0f0" text-anchor="middle" stroke="#f0f0f0" stroke-width="0.5">20</text>
<rect x="627.86" y="523.5" width="101.2" height="39.2" fill="#4a4a4a" stroke="#f4f4f4" stroke-width="1.2"/>
<rect x="627.86" y="573.4" width="101.2" height="39.2" fill="#4d4d4d" stroke="#f4f4f4" stroke-width="1.2"/>
<text x="678.46" y="628.2" font-size="12.4" fill="#f0f0f0" text-anchor="middle" stroke="#f0f0f0" stroke-width="0.5">30</text>
<rect x="746.38" y="523.5" width="101.2" height="39.2" fill="#666667" stroke="#f4f4f4" stroke-width="1.2"/>
<rect x="746.38" y="573.4" width="101.2" height="39.2" fill="#666666" stroke="#f4f4f4" stroke-width="1.2"/>
<text x="796.98" y="628.2" font-size="12.4" fill="#f0f0f0" text-anchor="middle" stroke="#f0f0f0" stroke-width="0.5">40</text>
<rect x="864.9" y="523.5" width="101.2" height="39.2" fill="#828282" stroke="#f4f4f4" stroke-width="1.2"/>
<rect x="864.9" y="573.4" width="101.2" height="39.2" fill="#808080" stroke="#f4f4f4" stroke-width="1.2"/>
<text x="915.5" y="628.2" font-size="12.4" fill="#f0f0f0" text-anchor="middle" stroke="#f0f0f0" stroke-width="0.5">50</text>
<rect x="983.42" y="523.5" width="101.2" height="39.2" fill="#9a9b9c" stroke="#f4f4f4" stroke-width="1.2"/>
<rect x="983.42" y="573.4" width="101.2" height="39.2" fill="#999999" stroke="#f4f4f4" stroke-width="1.2"/>
<text x="1034.02" y="628.2" font-size="12.4" fill="#f0f0f0" text-anchor="middle" stroke="#f0f0f0" stroke-width="0.5">60</text>
<rect x="1101.94" y="523.5" width="101.2" height="39.2" fill="#b4b4b4" stroke="#f4f4f4" stroke-width="1.2"/>
<rect x="1101.94" y="573.4" width="101.2" height="39.2" fill="#b3b3b3" stroke="#f4f4f4" stroke-width="1.2"/>
<text x="1152.54" y="628.2" font-size="12.4" fill="#f0f0f0" text-anchor="middle" stroke="#f0f0f0" stroke-width="0.5">70</text>
<rect x="1220.46" y="523.5" width="101.2" height="39.2" fill="#cdcdce" stroke="#f4f4f4" stroke-width="1.2"/>
<rect x="1220.46" y="573.4" width="101.2" height="39.2" fill="#cccccc" stroke="#f4f4f4" stroke-width="1.2"/>
<text x="1271.06" y="628.2" font-size="12.4" fill="#f0f0f0" text-anchor="middle" stroke="#f0f0f0" stroke-width="0.5">80</text>
<rect x="1338.98" y="523.5" width="101.2" height="39.2" fill="#e6e6e7" stroke="#f4f4f4" stroke-width="1.2"/>
<rect x="1338.98" y="573.4" width="101.2" height="39.2" fill="#e6e6e6" stroke="#f4f4f4" stroke-width="1.2"/>
<text x="1389.58" y="628.2" font-size="12.4" fill="#f0f0f0" text-anchor="middle" stroke="#f0f0f0" stroke-width="0.5">90</text>
<rect x="1457.5" y="523.5" width="101.2" height="39.2" fill="#ffffff" stroke="#f4f4f4" stroke-width="1.2"/>
<rect x="1457.5" y="573.4" width="101.2" height="39.2" fill="#ffffff" stroke="#f4f4f4" stroke-width="1.2"/>
<text x="1508.1" y="628.2" font-size="12.4" fill="#f0f0f0" text-anchor="middle" stroke="#f0f0f0" stroke-width="0.5">100</text>
<text transform="translate(264.3 543.2) rotate(-90)" text-anchor="middle" font-size="12.6" stroke="#f0f0f0" stroke-width="0.5" fill="#f0f0f0">Actual</text>
<text transform="translate(264.3 593) rotate(-90)" text-anchor="middle" font-size="12.6" stroke="#f0f0f0" stroke-width="0.5" fill="#f0f0f0">Target</text>
<text x="11.8" y="686.5" font-size="31.4" fill="#f2f2f2" textLength="227" lengthAdjust="spacingAndGlyphs" stroke="#f2f2f2" stroke-width="0.5">Current Reading</text>
<text x="12.5" y="732.4" font-size="24.8" fill="#f2f2f2" textLength="105.5" lengthAdjust="spacingAndGlyphs" stroke="#f2f2f2" stroke-width="0.35">x: 0,3119</text>
<text x="12.5" y="776.2" font-size="24.8" fill="#f2f2f2" textLength="105.5" lengthAdjust="spacingAndGlyphs" stroke="#f2f2f2" stroke-width="0.35">y: 0,3283</text>
<text x="12.5" y="821.6" font-size="24.8" fill="#f2f2f2" textLength="128.5" lengthAdjust="spacingAndGlyphs" stroke="#f2f2f2" stroke-width="0.35">fL: 100,836</text>
<text x="12.5" y="866.2" font-size="24.8" fill="#f2f2f2" textLength="164" lengthAdjust="spacingAndGlyphs" stroke="#f2f2f2" stroke-width="0.35">cd/m²: 345,49</text>
<path fill="#000" fill-rule="evenodd" d="M334.7 652.4H636.2V885.7H334.7Z M341.7 659.5V880.3H629.2V659.5Z"/>
<path fill="#333" fill-rule="evenodd" d="M341.7 659.5H629.2V880.3H341.7Z M380.2 662.9V850.1H626.1V662.9Z"/>
<rect x="380.2" y="662.9" width="245.9" height="187.2" fill="none" stroke="#a8a8a8" stroke-width="1.4"/>
<line x1="390.2" y1="850.1" x2="390.2" y2="856.5" stroke="#d8d8d8" stroke-width="1.6"/>
<text x="390.2" y="874.3" font-size="15.3" fill="#d2d2d2" text-anchor="middle" stroke="#d2d2d2" stroke-width="0.3">0,29</text>
<line x1="439.3" y1="850.1" x2="439.3" y2="856.5" stroke="#d8d8d8" stroke-width="1.6"/>
<text x="439.3" y="874.3" font-size="15.3" fill="#d2d2d2" text-anchor="middle" stroke="#d2d2d2" stroke-width="0.3">0,3</text>
<line x1="488.4" y1="850.1" x2="488.4" y2="856.5" stroke="#d8d8d8" stroke-width="1.6"/>
<text x="488.4" y="874.3" font-size="15.3" fill="#d2d2d2" text-anchor="middle" stroke="#d2d2d2" stroke-width="0.3">0,31</text>
<line x1="537.5" y1="850.1" x2="537.5" y2="856.5" stroke="#d8d8d8" stroke-width="1.6"/>
<text x="537.5" y="874.3" font-size="15.3" fill="#d2d2d2" text-anchor="middle" stroke="#d2d2d2" stroke-width="0.3">0,32</text>
<line x1="586.6" y1="850.1" x2="586.6" y2="856.5" stroke="#d8d8d8" stroke-width="1.6"/>
<text x="586.6" y="874.3" font-size="15.3" fill="#d2d2d2" text-anchor="middle" stroke="#d2d2d2" stroke-width="0.3">0,33</text>
<line x1="374.5" y1="677.9" x2="380.2" y2="677.9" stroke="#d8d8d8" stroke-width="1.6"/>
<text x="374.5" y="683.4" font-size="15.3" fill="#d2d2d2" text-anchor="end" stroke="#d2d2d2" stroke-width="0.3">0,35</text>
<line x1="374.5" y1="715.23" x2="380.2" y2="715.23" stroke="#d8d8d8" stroke-width="1.6"/>
<text x="374.5" y="720.73" font-size="15.3" fill="#d2d2d2" text-anchor="end" stroke="#d2d2d2" stroke-width="0.3">0,34</text>
<line x1="374.5" y1="752.56" x2="380.2" y2="752.56" stroke="#d8d8d8" stroke-width="1.6"/>
<text x="374.5" y="758.06" font-size="15.3" fill="#d2d2d2" text-anchor="end" stroke="#d2d2d2" stroke-width="0.3">0,33</text>
<line x1="374.5" y1="789.89" x2="380.2" y2="789.89" stroke="#d8d8d8" stroke-width="1.6"/>
<text x="374.5" y="795.39" font-size="15.3" fill="#d2d2d2" text-anchor="end" stroke="#d2d2d2" stroke-width="0.3">0,32</text>
<line x1="374.5" y1="827.22" x2="380.2" y2="827.22" stroke="#d8d8d8" stroke-width="1.6"/>
<text x="374.5" y="832.72" font-size="15.3" fill="#d2d2d2" text-anchor="end" stroke="#d2d2d2" stroke-width="0.3">0,31</text>
<clipPath id="cpC"><rect x="380.2" y="662.9" width="245.9" height="187.2"/></clipPath>
<polyline points="402.48,857.8 408.24,852.97 414.01,848.16 419.78,843.39 425.55,838.66 431.32,833.95 437.09,829.27 442.86,824.63 448.63,820.02 454.4,815.44 460.17,810.9 465.94,806.38 471.71,801.9 477.48,797.45 483.24,793.02 489.01,788.63 494.78,784.28 500.55,779.95 506.32,775.65 512.09,771.38 517.86,767.15 523.63,762.94 529.4,758.76 535.17,754.62 540.94,750.5 546.71,746.42 552.48,742.36 558.24,738.34 564.01,734.34 569.78,730.37 575.55,726.44 581.32,722.53 587.09,718.65 592.86,714.8 598.63,710.98 604.4,707.19 610.17,703.43 615.94,699.69 621.71,695.99 627.48,692.31 633.25,688.66" fill="none" stroke="#060606" stroke-width="3.3" stroke-linejoin="round" stroke-linecap="round" clip-path="url(#cpC)"/>
<rect x="494.0" y="747.8" width="15.2" height="16.2" fill="none" stroke="#060606" stroke-width="1.8"/>
<circle cx="501.6" cy="748.2" r="4.5" fill="#8a8a8a" stroke="#141414" stroke-width="1.4"/>
<circle cx="501.2" cy="751.6" r="4.5" fill="#a6a6a6" stroke="#141414" stroke-width="1.4"/>
<circle cx="500.2" cy="755" r="4.5" fill="#c0c0c0" stroke="#141414" stroke-width="1.4"/>
<circle cx="498.6" cy="758.8" r="4.5" fill="#d8d8d8" stroke="#141414" stroke-width="1.4"/>
<circle cx="497.3" cy="761.6" r="4.5" fill="#eeeeee" stroke="#141414" stroke-width="1.4"/>
<circle cx="497.4" cy="758.6" r="4.5" fill="#fff" stroke="#0c0c0c" stroke-width="1.5"/>
<circle cx="484.8" cy="783.9" r="6" fill="#1e1e1e"/>
<rect x="638" y="652.9" width="13.8" height="31" fill="#000"/>
<rect x="638" y="683.9" width="13.8" height="186" fill="#333"/>
<rect x="638" y="683.9" width="13.8" height="28.05" fill="url(#gut)"/>
<rect x="638" y="711.95" width="13.8" height="28.05" fill="url(#gut)"/>
<rect x="638" y="740" width="13.8" height="28.05" fill="url(#gut)"/>
<rect x="638" y="768.05" width="13.8" height="28.05" fill="url(#gut)"/>
<rect x="638" y="796.1" width="13.8" height="28.05" fill="url(#gut)"/>
<rect x="638" y="824.15" width="13.8" height="28.05" fill="url(#gut)"/>
<rect x="638" y="852.2" width="13.8" height="17.3" fill="url(#gut)"/>
<rect x="651.8" y="652.9" width="1039" height="31" fill="url(#thd)"/>
<g clip-path="url(#cpT)">
<rect x="651.8" y="683.9" width="1039" height="28.05" fill="#414141"/>
<text x="656.1" y="704.9" font-size="17.8" fill="#f0f0f0" textLength="57.1" lengthAdjust="spacingAndGlyphs">x: CIE31</text>
<text x="790.4" y="704.9" font-size="17.4" fill="#f0f0f0" textLength="48.95" lengthAdjust="spacingAndGlyphs">0,2667</text>
<text x="885.4" y="704.9" font-size="17.4" fill="#f0f0f0" textLength="48.95" lengthAdjust="spacingAndGlyphs">0,3093</text>
<text x="971.4" y="704.9" font-size="17.4" fill="#f0f0f0" textLength="48.95" lengthAdjust="spacingAndGlyphs">0,3126</text>
<text x="1057.4" y="704.9" font-size="17.4" fill="#f0f0f0" textLength="48.95" lengthAdjust="spacingAndGlyphs">0,3125</text>
<text x="1143.4" y="704.9" font-size="17.4" fill="#f0f0f0" textLength="48.95" lengthAdjust="spacingAndGlyphs">0,3117</text>
<text x="1229.4" y="704.9" font-size="17.4" fill="#f0f0f0" textLength="48.95" lengthAdjust="spacingAndGlyphs">0,3126</text>
<text x="1315.4" y="704.9" font-size="17.4" fill="#f0f0f0" textLength="48.95" lengthAdjust="spacingAndGlyphs">0,3113</text>
<text x="1401.4" y="704.9" font-size="17.4" fill="#f0f0f0" textLength="48.95" lengthAdjust="spacingAndGlyphs">0,3124</text>
<text x="1487.4" y="704.9" font-size="17.4" fill="#f0f0f0" textLength="48.95" lengthAdjust="spacingAndGlyphs">0,3116</text>
<text x="1573.4" y="704.9" font-size="17.4" fill="#f0f0f0" textLength="48.95" lengthAdjust="spacingAndGlyphs">0,3119</text>
<text x="1659.4" y="704.9" font-size="17.4" fill="#f0f0f0" textLength="48.95" lengthAdjust="spacingAndGlyphs">0,3119</text>
<rect x="651.8" y="711.95" width="1039" height="28.05" fill="#808080"/>
<text x="656.1" y="732.95" font-size="17.8" fill="#f0f0f0" textLength="57.1" lengthAdjust="spacingAndGlyphs">y: CIE31</text>
<text x="790.4" y="732.95" font-size="17.4" fill="#f0f0f0" textLength="48.95" lengthAdjust="spacingAndGlyphs">0,2407</text>
<text x="885.4" y="732.95" font-size="17.4" fill="#f0f0f0" textLength="48.95" lengthAdjust="spacingAndGlyphs">0,3215</text>
<text x="971.4" y="732.95" font-size="17.4" fill="#f0f0f0" textLength="48.95" lengthAdjust="spacingAndGlyphs">0,3280</text>
<text x="1057.4" y="732.95" font-size="17.4" fill="#f0f0f0" textLength="48.95" lengthAdjust="spacingAndGlyphs">0,3288</text>
<text x="1143.4" y="732.95" font-size="17.4" fill="#f0f0f0" textLength="48.95" lengthAdjust="spacingAndGlyphs">0,3273</text>
<text x="1229.4" y="732.95" font-size="17.4" fill="#f0f0f0" textLength="48.95" lengthAdjust="spacingAndGlyphs">0,3307</text>
<text x="1315.4" y="732.95" font-size="17.4" fill="#f0f0f0" textLength="48.95" lengthAdjust="spacingAndGlyphs">0,3279</text>
<text x="1401.4" y="732.95" font-size="17.4" fill="#f0f0f0" textLength="48.95" lengthAdjust="spacingAndGlyphs">0,3293</text>
<text x="1487.4" y="732.95" font-size="17.4" fill="#f0f0f0" textLength="48.95" lengthAdjust="spacingAndGlyphs">0,3279</text>
<text x="1573.4" y="732.95" font-size="17.4" fill="#f0f0f0" textLength="48.95" lengthAdjust="spacingAndGlyphs">0,3284</text>
<text x="1659.4" y="732.95" font-size="17.4" fill="#f0f0f0" textLength="48.95" lengthAdjust="spacingAndGlyphs">0,3283</text>
<rect x="651.8" y="740" width="1039" height="28.05" fill="#414141"/>
<text x="656.1" y="761" font-size="17.8" fill="#f0f0f0" textLength="9.1" lengthAdjust="spacingAndGlyphs">Y</text>
<text x="790.4" y="761" font-size="17.4" fill="#f0f0f0" textLength="48.95" lengthAdjust="spacingAndGlyphs">0,3672</text>
<text x="885.4" y="761" font-size="17.4" fill="#f0f0f0" textLength="48.95" lengthAdjust="spacingAndGlyphs">2,5259</text>
<text x="971.4" y="761" font-size="17.4" fill="#f0f0f0" textLength="57.84" lengthAdjust="spacingAndGlyphs">10,0089</text>
<text x="1057.4" y="761" font-size="17.4" fill="#f0f0f0" textLength="57.84" lengthAdjust="spacingAndGlyphs">24,5755</text>
<text x="1143.4" y="761" font-size="17.4" fill="#f0f0f0" textLength="57.84" lengthAdjust="spacingAndGlyphs">46,2171</text>
<text x="1229.4" y="761" font-size="17.4" fill="#f0f0f0" textLength="57.84" lengthAdjust="spacingAndGlyphs">76,5028</text>
<text x="1315.4" y="761" font-size="17.4" fill="#f0f0f0" textLength="66.74" lengthAdjust="spacingAndGlyphs">112,9021</text>
<text x="1401.4" y="761" font-size="17.4" fill="#f0f0f0" textLength="66.74" lengthAdjust="spacingAndGlyphs">159,3638</text>
<text x="1487.4" y="761" font-size="17.4" fill="#f0f0f0" textLength="66.74" lengthAdjust="spacingAndGlyphs">211,9187</text>
<text x="1573.4" y="761" font-size="17.4" fill="#f0f0f0" textLength="66.74" lengthAdjust="spacingAndGlyphs">276,1831</text>
<text x="1659.4" y="761" font-size="17.4" fill="#f0f0f0" textLength="66.74" lengthAdjust="spacingAndGlyphs">345,4900</text>
<rect x="651.8" y="768.05" width="1039" height="28.05" fill="#808080"/>
<text x="656.1" y="789.05" font-size="17.8" fill="#f0f0f0" textLength="59.6" lengthAdjust="spacingAndGlyphs">Target Y</text>
<text x="790.4" y="789.05" font-size="17.4" fill="#f0f0f0" textLength="48.95" lengthAdjust="spacingAndGlyphs">0,0000</text>
<text x="885.4" y="789.05" font-size="17.4" fill="#f0f0f0" textLength="48.95" lengthAdjust="spacingAndGlyphs">3,5689</text>
<text x="971.4" y="789.05" font-size="17.4" fill="#f0f0f0" textLength="57.84" lengthAdjust="spacingAndGlyphs">11,4374</text>
<text x="1057.4" y="789.05" font-size="17.4" fill="#f0f0f0" textLength="57.84" lengthAdjust="spacingAndGlyphs">24,9692</text>
<text x="1143.4" y="789.05" font-size="17.4" fill="#f0f0f0" textLength="57.84" lengthAdjust="spacingAndGlyphs">45,9047</text>
<text x="1229.4" y="789.05" font-size="17.4" fill="#f0f0f0" textLength="57.84" lengthAdjust="spacingAndGlyphs">74,5776</text>
<text x="1315.4" y="789.05" font-size="17.4" fill="#f0f0f0" textLength="66.74" lengthAdjust="spacingAndGlyphs">110,0547</text>
<text x="1401.4" y="789.05" font-size="17.4" fill="#f0f0f0" textLength="66.74" lengthAdjust="spacingAndGlyphs">153,8126</text>
<text x="1487.4" y="789.05" font-size="17.4" fill="#f0f0f0" textLength="66.74" lengthAdjust="spacingAndGlyphs">208,6163</text>
<text x="1573.4" y="789.05" font-size="17.4" fill="#f0f0f0" textLength="66.74" lengthAdjust="spacingAndGlyphs">273,3855</text>
<text x="1659.4" y="789.05" font-size="17.4" fill="#f0f0f0" textLength="66.74" lengthAdjust="spacingAndGlyphs">345,4900</text>
<rect x="651.8" y="796.1" width="1039" height="28.05" fill="#414141"/>
<text x="656.1" y="817.1" font-size="17.8" fill="#f0f0f0" textLength="123.6" lengthAdjust="spacingAndGlyphs">Gamma Log/Log</text>
<text x="790.4" y="817.1" font-size="17.4" fill="#f0f0f0" textLength="48.95" lengthAdjust="spacingAndGlyphs">1,3704</text>
<text x="885.4" y="817.1" font-size="17.4" fill="#f0f0f0" textLength="48.95" lengthAdjust="spacingAndGlyphs">2,1542</text>
<text x="971.4" y="817.1" font-size="17.4" fill="#f0f0f0" textLength="48.95" lengthAdjust="spacingAndGlyphs">2,2005</text>
<text x="1057.4" y="817.1" font-size="17.4" fill="#f0f0f0" textLength="48.95" lengthAdjust="spacingAndGlyphs">2,1835</text>
<text x="1143.4" y="817.1" font-size="17.4" fill="#f0f0f0" textLength="48.95" lengthAdjust="spacingAndGlyphs">2,1954</text>
<text x="1229.4" y="817.1" font-size="17.4" fill="#f0f0f0" textLength="48.95" lengthAdjust="spacingAndGlyphs">2,1874</text>
<text x="1315.4" y="817.1" font-size="17.4" fill="#f0f0f0" textLength="48.95" lengthAdjust="spacingAndGlyphs">2,1895</text>
<text x="1401.4" y="817.1" font-size="17.4" fill="#f0f0f0" textLength="48.95" lengthAdjust="spacingAndGlyphs">2,1525</text>
<text x="1487.4" y="817.1" font-size="17.4" fill="#f0f0f0" textLength="48.95" lengthAdjust="spacingAndGlyphs">2,1903</text>
<text x="1573.4" y="817.1" font-size="17.4" fill="#f0f0f0" textLength="48.95" lengthAdjust="spacingAndGlyphs">2,1699</text>
<text x="1659.4" y="817.1" font-size="17.4" fill="#f0f0f0" textLength="48.95" lengthAdjust="spacingAndGlyphs">2,2744</text>
<rect x="651.8" y="824.15" width="1039" height="28.05" fill="#808080"/>
<text x="656.1" y="845.15" font-size="17.8" fill="#f0f0f0" textLength="29.1" lengthAdjust="spacingAndGlyphs">CCT</text>
<text x="790.4" y="845.15" font-size="17.4" fill="#f0f0f0" textLength="84.54" lengthAdjust="spacingAndGlyphs">19470,0940</text>
<text x="885.4" y="845.15" font-size="17.4" fill="#f0f0f0" textLength="75.64" lengthAdjust="spacingAndGlyphs">6765,2589</text>
<text x="971.4" y="845.15" font-size="17.4" fill="#f0f0f0" textLength="75.64" lengthAdjust="spacingAndGlyphs">6515,1251</text>
<text x="1057.4" y="845.15" font-size="17.4" fill="#f0f0f0" textLength="75.64" lengthAdjust="spacingAndGlyphs">6517,6777</text>
<text x="1143.4" y="845.15" font-size="17.4" fill="#f0f0f0" textLength="75.64" lengthAdjust="spacingAndGlyphs">6569,6924</text>
<text x="1229.4" y="845.15" font-size="17.4" fill="#f0f0f0" textLength="75.64" lengthAdjust="spacingAndGlyphs">6497,6687</text>
<text x="1315.4" y="845.15" font-size="17.4" fill="#f0f0f0" textLength="75.64" lengthAdjust="spacingAndGlyphs">6587,9562</text>
<text x="1401.4" y="845.15" font-size="17.4" fill="#f0f0f0" textLength="75.64" lengthAdjust="spacingAndGlyphs">6519,7032</text>
<text x="1487.4" y="845.15" font-size="17.4" fill="#f0f0f0" textLength="75.64" lengthAdjust="spacingAndGlyphs">6570,6966</text>
<text x="1573.4" y="845.15" font-size="17.4" fill="#f0f0f0" textLength="75.64" lengthAdjust="spacingAndGlyphs">6551,4483</text>
<text x="1659.4" y="845.15" font-size="17.4" fill="#f0f0f0" textLength="75.64" lengthAdjust="spacingAndGlyphs">6555,2241</text>
<rect x="651.8" y="852.2" width="1039" height="28.05" fill="#414141"/>
<text x="656.1" y="873.2" font-size="17.8" fill="#f0f0f0" textLength="60.6" lengthAdjust="spacingAndGlyphs">ΔE 2000</text>
<text x="790.4" y="873.2" font-size="17.4" fill="#f0f0f0" textLength="48.95" lengthAdjust="spacingAndGlyphs">1,8004</text>
<text x="885.4" y="873.2" font-size="17.4" fill="#f0f0f0" textLength="48.95" lengthAdjust="spacingAndGlyphs">1,8182</text>
<text x="971.4" y="873.2" font-size="17.4" fill="#f0f0f0" textLength="48.95" lengthAdjust="spacingAndGlyphs">1,1551</text>
<text x="1057.4" y="873.2" font-size="17.4" fill="#f0f0f0" textLength="48.95" lengthAdjust="spacingAndGlyphs">0,2094</text>
<text x="1143.4" y="873.2" font-size="17.4" fill="#f0f0f0" textLength="48.95" lengthAdjust="spacingAndGlyphs">0,5146</text>
<text x="1229.4" y="873.2" font-size="17.4" fill="#f0f0f0" textLength="48.95" lengthAdjust="spacingAndGlyphs">1,0816</text>
<text x="1315.4" y="873.2" font-size="17.4" fill="#f0f0f0" textLength="48.95" lengthAdjust="spacingAndGlyphs">0,7572</text>
<text x="1401.4" y="873.2" font-size="17.4" fill="#f0f0f0" textLength="48.95" lengthAdjust="spacingAndGlyphs">0,8718</text>
<text x="1487.4" y="873.2" font-size="17.4" fill="#f0f0f0" textLength="48.95" lengthAdjust="spacingAndGlyphs">0,6446</text>
<text x="1573.4" y="873.2" font-size="17.4" fill="#f0f0f0" textLength="48.95" lengthAdjust="spacingAndGlyphs">0,4477</text>
<text x="1659.4" y="873.2" font-size="17.4" fill="#f0f0f0" textLength="48.95" lengthAdjust="spacingAndGlyphs">0,4400</text>
<text x="790.4" y="675.2" font-size="15.6" fill="#f0f0f0" textLength="8.12" lengthAdjust="spacingAndGlyphs">0</text>
<text x="885.4" y="675.2" font-size="15.6" fill="#f0f0f0" textLength="16.24" lengthAdjust="spacingAndGlyphs">10</text>
<text x="971.4" y="675.2" font-size="15.6" fill="#f0f0f0" textLength="16.24" lengthAdjust="spacingAndGlyphs">20</text>
<text x="1057.4" y="675.2" font-size="15.6" fill="#f0f0f0" textLength="16.24" lengthAdjust="spacingAndGlyphs">30</text>
<text x="1143.4" y="675.2" font-size="15.6" fill="#f0f0f0" textLength="16.24" lengthAdjust="spacingAndGlyphs">40</text>
<text x="1229.4" y="675.2" font-size="15.6" fill="#f0f0f0" textLength="16.24" lengthAdjust="spacingAndGlyphs">50</text>
<text x="1315.4" y="675.2" font-size="15.6" fill="#f0f0f0" textLength="16.24" lengthAdjust="spacingAndGlyphs">60</text>
<text x="1401.4" y="675.2" font-size="15.6" fill="#f0f0f0" textLength="16.24" lengthAdjust="spacingAndGlyphs">70</text>
<text x="1487.4" y="675.2" font-size="15.6" fill="#f0f0f0" textLength="16.24" lengthAdjust="spacingAndGlyphs">80</text>
<text x="1573.4" y="675.2" font-size="15.6" fill="#f0f0f0" textLength="16.24" lengthAdjust="spacingAndGlyphs">90</text>
<text x="1659.4" y="675.2" font-size="15.6" fill="#f0f0f0" textLength="24.36" lengthAdjust="spacingAndGlyphs">100</text>
</g>
<rect x="637.9" y="869.5" width="14" height="17.4" fill="#383838"/>
<rect x="651.8" y="869.5" width="1039" height="17.4" fill="#5a5a5a"/>
<rect x="653.3" y="871.3" width="13.6" height="15" rx="2.5" fill="#7a7a7a"/>
<path d="M663.2 874.2 L657.2 878.8 L663.2 883.4Z" fill="#303030"/>
<rect x="667.6" y="870.9" width="958.4" height="15.4" rx="7.5" fill="#464646"/>
<rect x="1675.8" y="871.3" width="14.4" height="15.2" rx="2.5" fill="#8a8a8a"/>
<path d="M1680.2 874.2 L1686.4 878.8 L1680.2 883.4Z" fill="#303030"/>
<rect x="1690.8" y="683.9" width="16.6" height="186" fill="#5c5c5c"/>
<rect x="1692.4" y="685.2" width="14.4" height="14.6" rx="2.5" fill="#7c7c7c"/>
<path d="M1694.6 696.2 L1699.6 689.4 L1704.6 696.2Z" fill="#b6b6b6"/>
<rect x="1693.7" y="703.4" width="11.9" height="125.8" rx="5.5" fill="#434343"/>
<rect x="1692.4" y="853.4" width="14.4" height="15.2" rx="2.5" fill="#7c7c7c"/>
<path d="M1694.6 857.2 L1699.6 864.2 L1704.6 857.2Z" fill="#b6b6b6"/>
<rect x="0" y="888" width="1716" height="63" fill="#404040"/>
<rect x="0" y="887.9" width="1716" height="1.1" fill="#272727"/>
<rect x="-2" y="889.1" width="124.7" height="60.9" rx="4.5" fill="url(#btn)"/>
<rect x="3.2" y="893.7" width="114.8" height="36.6" rx="3.5" fill="#000000" stroke="url(#swb)" stroke-width="1.1"/>
<text x="60.6" y="944.7" font-size="10.3" fill="#3a3a3a" text-anchor="middle" font-weight="bold" stroke="#3a3a3a" stroke-width="0.25">0</text>
<rect x="125.1" y="889.1" width="124.3" height="60.9" rx="4.5" fill="url(#btn)"/>
<rect x="129.95" y="893.7" width="114.8" height="36.6" rx="3.5" fill="#1c1c1c" stroke="url(#swb)" stroke-width="1.1"/>
<text x="187.35" y="944.7" font-size="10.3" fill="#3a3a3a" text-anchor="middle" font-weight="bold" stroke="#3a3a3a" stroke-width="0.25">10</text>
<rect x="251.85" y="889.1" width="124.3" height="60.9" rx="4.5" fill="url(#btn)"/>
<rect x="256.7" y="893.7" width="114.8" height="36.6" rx="3.5" fill="#333333" stroke="url(#swb)" stroke-width="1.1"/>
<text x="314.1" y="944.7" font-size="10.3" fill="#3a3a3a" text-anchor="middle" font-weight="bold" stroke="#3a3a3a" stroke-width="0.25">20</text>
<rect x="378.6" y="889.1" width="124.3" height="60.9" rx="4.5" fill="url(#btn)"/>
<rect x="383.45" y="893.7" width="114.8" height="36.6" rx="3.5" fill="#4d4d4d" stroke="url(#swb)" stroke-width="1.1"/>
<text x="440.85" y="944.7" font-size="10.3" fill="#3a3a3a" text-anchor="middle" font-weight="bold" stroke="#3a3a3a" stroke-width="0.25">30</text>
<rect x="505.35" y="889.1" width="124.3" height="60.9" rx="4.5" fill="url(#btn)"/>
<rect x="510.2" y="893.7" width="114.8" height="36.6" rx="3.5" fill="#666666" stroke="url(#swb)" stroke-width="1.1"/>
<text x="567.6" y="944.7" font-size="10.3" fill="#3a3a3a" text-anchor="middle" font-weight="bold" stroke="#3a3a3a" stroke-width="0.25">40</text>
<rect x="632.1" y="889.1" width="124.3" height="60.9" rx="4.5" fill="url(#btn)"/>
<rect x="636.95" y="893.7" width="114.8" height="36.6" rx="3.5" fill="#808080" stroke="url(#swb)" stroke-width="1.1"/>
<text x="694.35" y="944.7" font-size="10.3" fill="#3a3a3a" text-anchor="middle" font-weight="bold" stroke="#3a3a3a" stroke-width="0.25">50</text>
<rect x="758.85" y="889.1" width="124.3" height="60.9" rx="4.5" fill="url(#btn)"/>
<rect x="763.7" y="893.7" width="114.8" height="36.6" rx="3.5" fill="#999999" stroke="url(#swb2)" stroke-width="1.1"/>
<text x="821.1" y="944.7" font-size="10.3" fill="#3a3a3a" text-anchor="middle" font-weight="bold" stroke="#3a3a3a" stroke-width="0.25">60</text>
<rect x="885.6" y="889.1" width="124.3" height="60.9" rx="4.5" fill="url(#btn)"/>
<rect x="890.45" y="893.7" width="114.8" height="36.6" rx="3.5" fill="#b3b3b3" stroke="url(#swb2)" stroke-width="1.1"/>
<text x="947.85" y="944.7" font-size="10.3" fill="#3a3a3a" text-anchor="middle" font-weight="bold" stroke="#3a3a3a" stroke-width="0.25">70</text>
<rect x="1012.35" y="889.1" width="124.3" height="60.9" rx="4.5" fill="url(#btn)"/>
<rect x="1017.2" y="893.7" width="114.8" height="36.6" rx="3.5" fill="#cccccc" stroke="url(#swb2)" stroke-width="1.1"/>
<text x="1074.6" y="944.7" font-size="10.3" fill="#3a3a3a" text-anchor="middle" font-weight="bold" stroke="#3a3a3a" stroke-width="0.25">80</text>
<rect x="1139.1" y="889.1" width="124.3" height="60.9" rx="4.5" fill="url(#btn)"/>
<rect x="1143.95" y="893.7" width="114.8" height="36.6" rx="3.5" fill="#e6e6e6" stroke="url(#swb2)" stroke-width="1.1"/>
<text x="1201.35" y="944.7" font-size="10.3" fill="#3a3a3a" text-anchor="middle" font-weight="bold" stroke="#3a3a3a" stroke-width="0.25">90</text>
<rect x="1265.85" y="889.1" width="124.3" height="60.9" rx="4.5" fill="url(#btnSel)"/>
<rect x="1270.7" y="893.7" width="114.8" height="36.6" rx="3.5" fill="#ffffff" stroke="#e4e4e4" stroke-width="1.1"/>
<text x="1328.1" y="944.7" font-size="10.3" fill="#ffffff" text-anchor="middle" font-weight="bold" stroke="#ffffff" stroke-width="0.25">100</text>
<path d="M1393.8 907 V893 Q1393.8 889 1397.8 889 H1437.8 Q1441.8 889 1441.8 893 V907Z" fill="url(#sb)"/>
<rect x="1393.8" y="908.2" width="48" height="42.8" fill="url(#sb)"/>
<circle cx="1418.3" cy="897.4" r="7.2" fill="url(#ic)"/>
<path d="M1413.6 899.6 L1418.3 893.8 L1423 899.6Z" fill="#4a4a4a"/>
<rect x="1402.2" y="913.2" width="32" height="32" rx="4" fill="none" stroke="#bdbdbd" stroke-width="0.8"/>
<rect x="1404" y="915" width="28.4" height="28.4" rx="3" fill="#9a9a9a" stroke="#222" stroke-width="3"/>
<rect x="1405.5" y="929" width="25.4" height="13" fill="#7e7e7e"/>
<rect x="1411.2" y="922" width="14" height="7" fill="#1a1a1a"/>
<rect x="1411.2" y="929" width="14" height="6.9" fill="#000"/>
<rect x="1443" y="889" width="46" height="30" fill="url(#sb)"/>
<circle cx="1466" cy="904.1" r="9.7" fill="url(#ic)"/>
<rect x="1490" y="889" width="44.2" height="30" fill="url(#sb)"/>
<circle cx="1512.1" cy="904.1" r="9.7" fill="url(#ic)"/>
<rect x="1535.2" y="889" width="44" height="30" fill="url(#sb)"/>
<circle cx="1557.2" cy="904.1" r="9.7" fill="url(#ic)"/>
<rect x="1580.2" y="889" width="43.8" height="30" fill="url(#sb)"/>
<circle cx="1602.1" cy="904.1" r="9.7" fill="url(#ic)"/>
<rect x="1625" y="889" width="43.4" height="30" fill="url(#sb)"/>
<circle cx="1646.7" cy="904.1" r="9.7" fill="url(#ic)"/>
<rect x="1462.1" y="900.2" width="7.8" height="7.8" fill="#363636"/>
<path d="M1508.5 898.8 L1517.1 904.1 L1508.5 909.4Z" fill="#363636"/>
<path d="M1554.8 898.4 h-3 v11.4 h3 M1559.6 898.4 h3 v11.4 h-3" fill="none" stroke="#363636" stroke-width="2.1"/>
<path d="M1554.9 904.1 h1.6 M1557.9 904.1 h1.6" stroke="#363636" stroke-width="1.8"/>
<path d="M1602.1 904.1 c-1.8 -3.3 -6.6 -3.3 -6.6 0 c0 3.3 4.8 3.3 6.6 0 c1.8 -3.3 6.6 -3.3 6.6 0 c0 3.3 -4.8 3.3 -6.6 0Z" fill="none" stroke="#363636" stroke-width="1.7"/>
<path d="M1642 903.0 a4.7 4.7 0 0 1 8.2 -2.6 M1651.4 905.2 a4.7 4.7 0 0 1 -8.2 2.6" fill="none" stroke="#363636" stroke-width="2.4"/>
<path d="M1651.9 897.0 v5.4 h-5.4Z M1641.5 911.2 v-5.4 h5.4Z" fill="#363636"/>
<rect x="1669.8" y="889" width="46.2" height="30.2" fill="url(#dk)"/>
<circle cx="1692.8" cy="903.9" r="9.9" fill="url(#dk2)"/>
<path d="M1443 951 V924 Q1443 920.2 1447 920.2 H1579.2 V951Z" fill="url(#sb)"/>
<path d="M1580.4 951 V920.2 H1711.5 L1716 922.6 V951Z" fill="url(#sb)"/>
<circle cx="1473.9" cy="935" r="9.7" fill="url(#ic2)"/>
<circle cx="1686.9" cy="935" r="9.7" fill="url(#ic2)"/>
<path d="M1473 930.4 L1469.4 935 L1473 939.6 M1478 930.4 L1474.4 935 L1478 939.6" fill="none" stroke="#3a3a3a" stroke-width="1.6"/>
<path d="M1683 930.4 L1686.6 935 L1683 939.6 M1688 930.4 L1691.6 935 L1688 939.6" fill="none" stroke="#3a3a3a" stroke-width="1.6"/>
<text x="1501.2" y="942.6" font-size="21.4" fill="#303030" textLength="50.2" lengthAdjust="spacingAndGlyphs" stroke="#303030" stroke-width="0.55">Back</text>
<text x="1607.4" y="942.6" font-size="21.4" fill="#303030" textLength="51.6" lengthAdjust="spacingAndGlyphs" stroke="#303030" stroke-width="0.55">Next</text>
<rect x="0" y="950" width="1716" height="1" fill="#242424"/>
</svg>
</body>
</html>
